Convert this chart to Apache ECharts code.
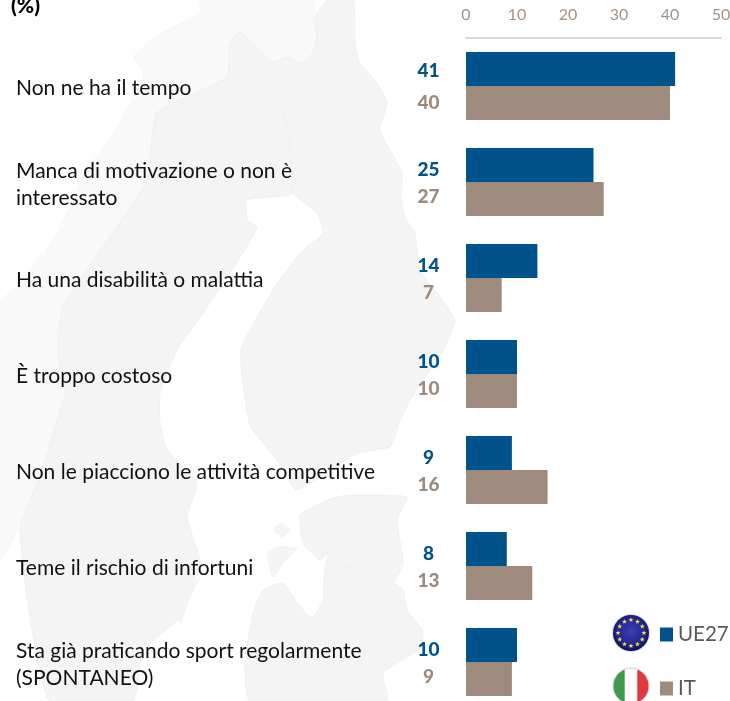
<!DOCTYPE html>
<html>
<head>
<meta charset="utf-8">
<style>html,body{margin:0;padding:0;background:#fff;overflow:hidden;height:701px}#c{width:730px;height:701px}</style>
<script src="https://cdn.jsdelivr.net/npm/echarts@6/dist/echarts.min.js"></script>
</head>
<body>
<div id="c"></div>
<script>
const categories = ["Non ne ha il tempo","Manca di motivazione o non è\ninteressato","Ha una disabilità o malattia","È troppo costoso","Non le piacciono le attività competitive","Teme il rischio di infortuni","Sta già praticando sport regolarmente\n(SPONTANEO)"];
const ue27 = [41,25,14,10,9,8,10];
const it = [40,27,7,10,16,13,9];
const seriesNames = ["UE27","IT"];
const ue27LabelShift = [2,5,5,5,5,5,5];
const itLabelShift = [0,-2,-2,-2,-2,-2,-2];

const FONT = 'Lato';
const BLUE = '#00538a', TAN = '#9e8b7e';

// faint background map (decoration only)
const shapeNorway = [[200,0],[313,0],[315,17],[317,43],[310,57],[300,63],[287,57],[272,62],[240,32],[230,45],[227,77],[157,113],[147,180],[103,247],[63,307],[58,350],[65,393],[37,483],[20,527],[0,560],[0,303],[20,283],[57,233],[83,177],[123,117],[143,73],[133,57],[160,33],[200,13]];
const shapeSweden = [[230,45],[280,100],[290,143],[293,193],[247,200],[247,220],[257,227],[240,257],[203,313],[177,350],[160,393],[160,423],[167,450],[197,483],[187,517],[200,563],[177,620],[143,650],[133,701],[50,701],[30,617],[20,527],[37,483],[65,393],[58,350],[63,307],[103,247],[147,180],[157,113],[227,77]];
const shapeFinland = [[327,0],[353,0],[355,45],[360,63],[377,83],[387,103],[380,130],[402,173],[401,197],[405,218],[415,233],[420,270],[440,297],[455,320],[443,350],[410,400],[400,420],[390,447],[357,453],[297,490],[277,460],[250,425],[241,350],[273,290],[300,253],[323,233],[317,213],[293,193],[290,143],[280,100],[230,45],[240,32],[272,62],[287,57],[300,63],[310,57],[317,43],[315,17]];
const shapeEstonia = [[300,515],[313,507],[333,498],[350,495],[407,497],[397,520],[403,563],[393,583],[375,588],[350,567],[325,573],[328,553],[320,560],[303,543]];
const shapeLatvia = [[325,573],[323,600],[312,618],[297,603],[283,583],[263,590],[253,613],[245,663],[250,701],[387,701],[383,673],[422,647],[422,630],[407,610],[403,590],[393,583],[375,588],[350,567]];
const shapeIsland1 = [[267,553],[277,547],[297,548],[283,563],[273,577]];
const shapeIsland2 = [[273,530],[282,523],[290,530],[282,537]];
const shapeIsland3 = [[200,577],[177,603],[180,623],[190,597]];
const shapeIsland4 = [[150,603],[133,640],[137,643],[153,610]];

function poly(points, fill, stroke) {
  return {type:'polygon', silent:true, z:-10, shape:{points, smooth:0.15}, style:{fill, stroke:stroke||fill, lineWidth:1}};
}
const mapGraphics = [
  poly(shapeNorway,'#f9f9f9'),
  poly(shapeSweden,'#f4f4f4','#f0f0f0'),
  poly(shapeFinland,'#f4f4f4','#f0f0f0'),
  poly(shapeEstonia,'#f4f4f4','#f0f0f0'),
  poly(shapeLatvia,'#f4f4f4','#f0f0f0'),
  poly(shapeIsland1,'#f4f4f4'),
  poly(shapeIsland2,'#f4f4f4'),
  poly(shapeIsland3,'#f4f4f4'),
  poly(shapeIsland4,'#f4f4f4')
];

// flags
function star(cx, cy, R) {
  const pts = [];
  for (let i = 0; i < 10; i++) {
    const r = i % 2 ? R * 0.42 : R, a = -Math.PI/2 + i * Math.PI/5;
    pts.push([cx + r*Math.cos(a), cy + r*Math.sin(a)]);
  }
  return {type:'polygon', silent:true, shape:{points:pts}, style:{fill:'#f2e33a'}, z:5};
}
function segment(cx, cy, r, from, to, fill) {
  const pts = [];
  for (let i = 0; i <= 40; i++) {
    const a = from + (to-from)*i/40;
    pts.push([cx + r*Math.cos(a), cy + r*Math.sin(a)]);
  }
  return {type:'polygon', silent:true, shape:{points:pts}, style:{fill}, z:5};
}
const EU = {x:631,y:633,r:18}, ITF = {x:631,y:686,r:17.5};
const flagGraphics = [
  {type:'circle', silent:true, z:4, shape:{cx:EU.x,cy:EU.y,r:EU.r+1}, style:{fill:'#d8d8e0'}},
  {type:'circle', silent:true, z:5, shape:{cx:EU.x,cy:EU.y,r:EU.r},
   style:{fill:{type:'radial',x:0.5,y:0.45,r:0.55,colorStops:[{offset:0,color:'#3b3fb5'},{offset:0.7,color:'#23248f'},{offset:1,color:'#0e0f5c'}]}}},
  ...Array.from({length:12},(_,i)=>{const a=i*Math.PI/6;return star(EU.x+13*Math.sin(a),EU.y-13*Math.cos(a),2.6);}),
  {type:'circle', silent:true, z:4, shape:{cx:ITF.x,cy:ITF.y,r:ITF.r+1}, style:{fill:'#cfcfcf'}},
  {type:'circle', silent:true, z:5, shape:{cx:ITF.x,cy:ITF.y,r:ITF.r}, style:{fill:'#ffffff'}},
  segment(ITF.x,ITF.y,ITF.r,Math.PI-1.2,Math.PI+1.2,'#3f9a4b'),
  segment(ITF.x,ITF.y,ITF.r,-1.2,1.2,'#e2393f')
];

const chart = echarts.init(document.getElementById('c'), null, {renderer:'canvas'});
function barSeries(name, values, shift, color) {
  return {
    name, type:'bar', barWidth:34, barGap:'0%', xAxisIndex:0, yAxisIndex:0,
    itemStyle:{color},
    label:{show:true, position:[-37.5,'50%'], align:'center', verticalAlign:'middle',
      color, fontFamily:FONT, fontWeight:900, fontSize:19},
    data: values.map((v,i)=>({value:v, label:{offset:[0,shift[i]]}}))
  };
}
chart.setOption({
  animation:false,
  backgroundColor:'#ffffff',
  title:{text:'(%)', left:11, top:-4, padding:0, textStyle:{fontFamily:FONT,fontWeight:900,fontSize:21,color:'#000'}},
  grid:[
    {left:466, top:38, width:255, height:672, outerBoundsMode:'none'},
    {left:466, top:40.5, width:255, height:672, outerBoundsMode:'none'}
  ],
  xAxis:[
    {type:'value', gridIndex:0, position:'top', min:0, max:50, interval:10,
      axisLine:{show:true, lineStyle:{color:'#d9d9d9',width:2}},
      axisTick:{show:false}, splitLine:{show:false},
      axisLabel:{color:'#a39488', fontFamily:FONT, fontSize:16, margin:15}},
    {type:'value', gridIndex:1, min:0, max:50, interval:10, show:false}
  ],
  yAxis:[
    {type:'category', gridIndex:0, inverse:true, data:categories,
      axisLine:{show:false}, axisTick:{show:false}, axisLabel:{show:false}},
    {type:'category', gridIndex:1, inverse:true, data:categories,
      axisLine:{show:false}, axisTick:{show:false},
      axisLabel:{interval:0, align:'left', margin:450, color:'#111', fontFamily:FONT, fontSize:21, lineHeight:27}}
  ],
  legend:{orient:'vertical', left:660, top:624, padding:0, itemWidth:13, itemHeight:14, itemGap:33, icon:'rect', selectedMode:false,
    data:seriesNames, textStyle:{color:'#595959', fontFamily:FONT, fontSize:20.5, lineHeight:21}},
  series:[barSeries(seriesNames[0],ue27,ue27LabelShift,BLUE), barSeries(seriesNames[1],it,itLabelShift,TAN)],
  graphic:{elements:[...mapGraphics, ...flagGraphics]}
});
</script>
</body>
</html>
